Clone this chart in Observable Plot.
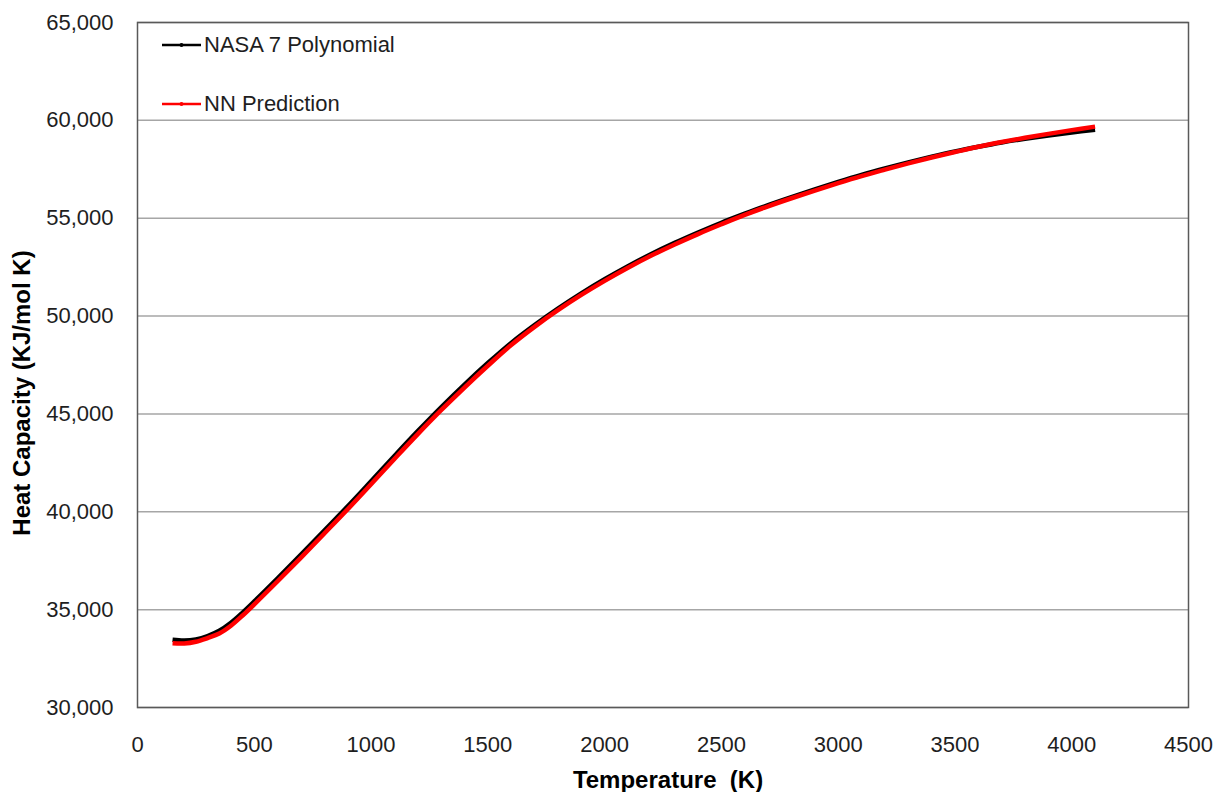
<!DOCTYPE html>
<html>
<head>
<meta charset="utf-8">
<script src="https://cdn.jsdelivr.net/npm/d3@7"></script>
<script src="https://cdn.jsdelivr.net/npm/@observablehq/plot@0.6"></script>
<style>
  html, body { margin: 0; padding: 0; background: #fff; }
  #wrap { position: relative; width: 1215px; height: 792px; font-family: "Liberation Sans", Arial, sans-serif; }
  .legend { position: absolute; left: 162px; font-size: 22px; color: #1e1e1e; display: flex; align-items: center; }
  .legend svg { margin-right: 2px; }
</style>
</head>
<body>
<div id="wrap"></div>
<script>
// ---- data ----
const temperature = [150,200,250,300,350,400,450,500,600,700,800,900,1000,1100,1200,1300,1400,1500,1600,1700,1800,1900,2000,2100,2200,2300,2400,2500,2600,2700,2800,2900,3000,3100,3200,3300,3400,3500,3600,3700,3800,3900,4000,4100];
const nasaCp = [33460,33420,33480,33650,33920,34330,34850,35420,36600,37810,39040,40280,41560,42850,44120,45340,46500,47600,48630,49540,50380,51160,51880,52550,53170,53740,54270,54770,55230,55670,56080,56470,56850,57210,57540,57850,58140,58410,58650,58870,59060,59230,59380,59520];
const nnCp   = [33280,33270,33360,33550,33780,34180,34700,35270,36450,37660,38890,40130,41410,42700,43970,45190,46350,47460,48520,49450,50300,51080,51800,52470,53090,53660,54190,54690,55170,55610,56020,56410,56790,57150,57480,57800,58100,58380,58650,58890,59110,59310,59500,59680];
const seriesNames = ["NASA 7 Polynomial", "NN Prediction"];
const seriesColors = ["#000000", "#ff0000"];
const xTicks = [0,500,1000,1500,2000,2500,3000,3500,4000,4500];
const yTicks = [30000,35000,40000,45000,50000,55000,60000,65000];
const xLabel = "Temperature\u00a0 (K)";
const yLabel = "Heat Capacity (KJ/mol K)";

const rows = [];
temperature.forEach((t, i) => {
  rows.push({T: t, Cp: nasaCp[i], s: seriesNames[0]});
});
temperature.forEach((t, i) => {
  rows.push({T: t, Cp: nnCp[i], s: seriesNames[1]});
});

const chart = Plot.plot({
  width: 1215,
  height: 792,
  marginLeft: 137,
  marginRight: 27,
  marginTop: 22,
  marginBottom: 85,
  style: {fontFamily: "'Liberation Sans', Arial, sans-serif", fontSize: "22px", color: "#1e1e1e", background: "#fff"},
  x: {domain: [0, 4500], ticks: xTicks, tickFormat: d3.format("d")},
  y: {domain: [30000, 65000], ticks: yTicks, tickFormat: d3.format(",")},
  color: {domain: seriesNames, range: seriesColors},
  marks: [
    Plot.gridY(yTicks, {stroke: "#a6a6a6", strokeOpacity: 1, strokeWidth: 1.5}),
    Plot.axisX({ticks: xTicks, tickSize: 0, tickPadding: 29, label: null, tickFormat: d3.format("d")}),
    Plot.axisY({ticks: yTicks, tickSize: 0, tickPadding: 24, label: null, tickFormat: d3.format(",")}),
    Plot.line(rows, {x: "T", y: "Cp", z: "s", stroke: "s", strokeWidth: 4.5, curve: "catmull-rom", strokeLinecap: "butt"}),
    Plot.frame({stroke: "#595959", strokeWidth: 1.5}),
    Plot.text([xLabel], {text: d => d, frameAnchor: "bottom", textAnchor: "middle", lineAnchor: "middle", dx: 5, dy: 73, fontWeight: "bold", fontSize: 24, fill: "#000"}),
    Plot.text([yLabel], {text: d => d, frameAnchor: "left", textAnchor: "middle", lineAnchor: "middle", dx: -115, dy: 28, rotate: -90, fontWeight: "bold", fontSize: 24, fill: "#000"})
  ]
});

const wrap = document.getElementById("wrap");
wrap.appendChild(chart);

// legend (inside plot area, top-left)
const legendY = [45, 104];
seriesNames.forEach((name, i) => {
  const div = document.createElement("div");
  div.className = "legend";
  div.style.top = (legendY[i] - 14) + "px";
  div.style.height = "28px";
  div.innerHTML = `<svg width="40" height="10"><line x1="0" x2="39" y1="5" y2="5" stroke="${seriesColors[i]}" stroke-width="2.5"/><circle cx="19.5" cy="5" r="2" fill="${seriesColors[i]}"/></svg><span>${name}</span>`;
  wrap.appendChild(div);
});
</script>
</body>
</html>
